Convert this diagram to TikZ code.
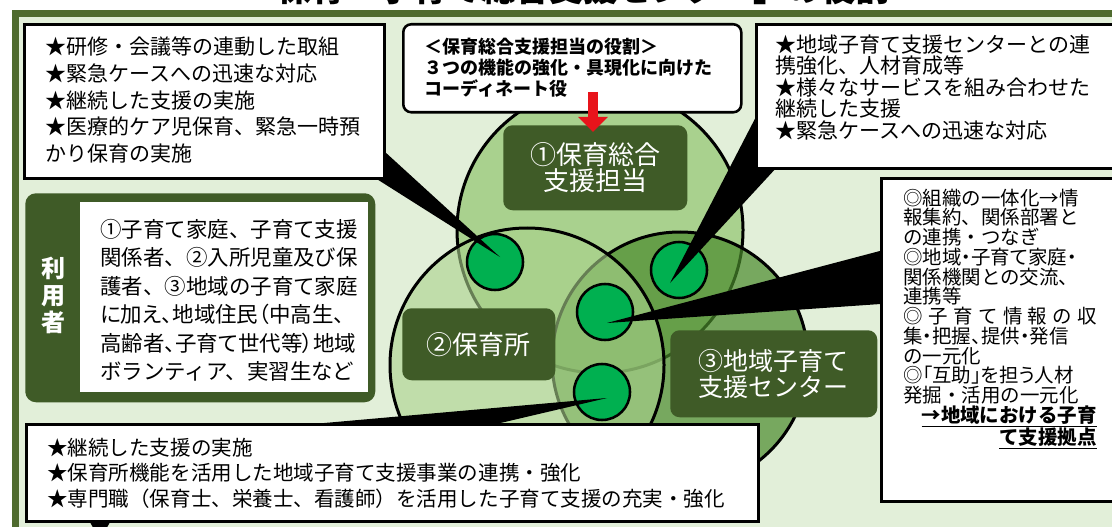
\documentclass[tikz,border=0pt]{standalone}
\usepackage{fontspec}
\setmainfont{Noto Sans CJK JP}
\newfontfamily\jpp[RawFeature=+palt]{Noto Sans CJK JP}
\usetikzlibrary{arrows.meta}
\definecolor{bgg}{HTML}{E2EFD9}
\definecolor{framec}{HTML}{4F6B2E}
\definecolor{dgreen}{HTML}{3F5B27}
\definecolor{cone}{HTML}{A9D18E}
\definecolor{ctwo}{HTML}{AAD28C}
\definecolor{cthree}{HTML}{4A8A2C}
\definecolor{dotg}{HTML}{00B050}
\definecolor{arrred}{HTML}{E8141B}
\newcommand\setfs[2]{\fontsize{#1}{#2}\selectfont}
\begin{document}
\begin{tikzpicture}[x=0.75pt,y=-0.75pt,
  wbox/.style={draw=black, line width=2.25pt, fill=white, inner sep=0pt, anchor=north west},
  txt/.style={anchor=north west, inner sep=0pt, align=left, text=black},
  glab/.style={fill=dgreen, rounded corners=7pt, text=white, align=center, inner sep=0pt, anchor=north west},
  dotc/.style={circle, fill=dotg, draw=black, line width=1.9pt, minimum size=42pt, inner sep=0pt},
  wedgef/.style={fill=black},
  bigc/.style={draw=black, line width=2.25pt}]
\useasboundingbox (0,0) rectangle (1112,527);
\clip (0,0) rectangle (1112,527);
\fill[white] (0,0) rectangle (1112,527);
% title (top cut off)
\node[anchor=base, inner sep=0pt, font=\bfseries\setfs{25.5}{25.5}] (title) at (566,2) {「保育・子育て総合支援センター」の役割};
% frame
\draw[framec, line width=5.25pt, fill=bgg] (15,13.5) rectangle (1140,560);
% big circles
\draw[bigc, fill=cone] (600,230) circle[radius=143];
\draw[bigc, fill=cthree, fill opacity=0.7] (680,360) circle[radius=128];
\draw[bigc, fill=ctwo, fill opacity=0.6] (527,365) circle[radius=137];
% labels in circles
\node[glab, minimum width=138pt, minimum height=63.75pt] (lab1) at (503,125) {};
\node[text=white, align=center, font=\setfs{19.5}{19.5}] (lab1t) at (lab1.center) {①保育総合\\支援担当};
\node[glab, minimum width=114.75pt, minimum height=54pt] (lab2) at (402,308) {};
\node[text=white, font=\setfs{19.5}{19.5}] (lab2t) at (lab2.center) {②保育所};
\node[glab, minimum width=155.25pt, minimum height=65.25pt] (lab3) at (670,330) {};
\node[text=white, align=center, font=\setfs{18.75}{19.5}] (lab3t) at (lab3.center) {③地域子育て\\支援センター};
% small dots
\node[dotc] (d1) at (495,262) {};
\node[dotc] (d2) at (679,270) {};
\node[dotc] (d3) at (605,312) {};
\node[dotc] (d4) at (602,392) {};
% wedge coordinates
\coordinate (t1) at (500,257);
\coordinate (t2) at (670,283);
\coordinate (t3) at (607,323);
\coordinate (t4) at (607,398);
\coordinate (a1) at (350,120); \coordinate (b1) at (372,176);
\coordinate (a2) at (775,80);  \coordinate (b2) at (778,166);
\coordinate (a3) at (895,247); \coordinate (b3) at (895,303);
\coordinate (a4) at (200,434); \coordinate (b4) at (300,470);
\fill[wedgef] (a1) -- (t1) -- (b1) -- cycle;
\fill[wedgef] (a2) -- (t2) -- (b2) -- cycle;
\fill[wedgef] (a3) -- (t3) -- (b3) -- cycle;
\fill[wedgef] (a4) -- (t4) -- (b4) -- cycle;
\fill[wedgef] (86,515) -- (114,515) -- (100,540) -- cycle;
% top-left box
\node[wbox, minimum width=270pt, minimum height=115.5pt] (tl) at (23,23) {};
\node[txt, font=\setfs{15.75}{20.1}] (tlt) at (45,36.5) {★研修・会議等の連動した取組\\★緊急ケースへの迅速な対応\\★継続した支援の実施\\★医療的ケア児保育、緊急一時預\\かり保育の実施};
% top-middle box
\node[wbox, line width=1.9pt, rounded corners=6pt, minimum width=253.5pt, minimum height=66pt] (tm) at (402,23) {};
\node[txt, font=\bfseries\setfs{13.5}{15.75}] (tmt) at (424,38) {＜保育総合支援担当の役割＞\\３つの機能の強化・具現化に向けた\\コーディネート役};
% top-right box
\node[wbox, minimum width=277.5pt, minimum height=108pt] (tr) at (755,23) {};
\node[txt, font=\setfs{15.75}{16.1}] (trt) at (775,34.5) {★地域子育て支援センターとの連\\携強化、人材育成等\\★様々なサービスを組み合わせた\\継続した支援\\★緊急ケースへの迅速な対応};
% users box
\node[glab, rounded corners=8pt, minimum width=262.5pt, minimum height=156.75pt] (usr) at (25,193) {};
\node[fill=white, inner sep=0pt, anchor=north west, minimum width=216pt, minimum height=142.5pt] (usrw) at (80,202) {};
\node[text=white, align=center, font=\bfseries\setfs{18}{20.25}] (usrl) at (53,295) {利\\用\\者};
\node[txt, font=\setfs{16.1}{21.3}] (usrt) at (100,219) {①子育て家庭、子育て支援\\関係者、②入所児童及び保\\護者、③地域の子育て家庭\\{\jpp に加え、地域住民（中高生、}\\{\jpp 高齢者、子育て世代等）地域}\\ボランティア、実習生など};
% right box
\node[wbox, minimum width=183.75pt, minimum height=242.25pt] (rb) at (880,177) {};
\node[txt, font=\setfs{14.6}{14.8}] (rbt) at (903,188.5) {◎組織の一体化→情\\報集約、関係部署と\\の連携・つなぎ\\{\jpp ◎地域・子育て家庭・}\\関係機関との交流、\\連携等\\\makebox[145.5pt][s]{◎\hfill 子\hfill 育\hfill て\hfill 情\hfill 報\hfill の\hfill 収}\\{\jpp 集・把握、提供・発信}\\の一元化\\{\jpp ◎「互助」を担う人材}\\発掘・活用の一元化};
\node[anchor=north east, inner sep=0pt, align=right, font=\bfseries\setfs{14.6}{14.8}] (rbh) at (1097,405.2) {\underline{→地域における子育}\\\underline{て支援拠点}};
% bottom box
\node[wbox, minimum width=549pt, minimum height=72.75pt] (bb) at (25,423) {};
\node[txt, font=\setfs{15.4}{19.1}] (bbt) at (47,437.75) {★継続した支援の実施\\★保育所機能を活用した地域子育て支援事業の連携・強化\\★専門職（保育士、栄養士、看護師）を活用した子育て支援の充実・強化};
% red arrow
\coordinate (arrtop) at (593,92);
\coordinate (arrtip) at (593,132);
\draw[arrred, line width=7.5pt, -{Triangle[width=21.75pt,length=11.25pt]}] (arrtop) -- (arrtip);
\end{tikzpicture}
\end{document}
